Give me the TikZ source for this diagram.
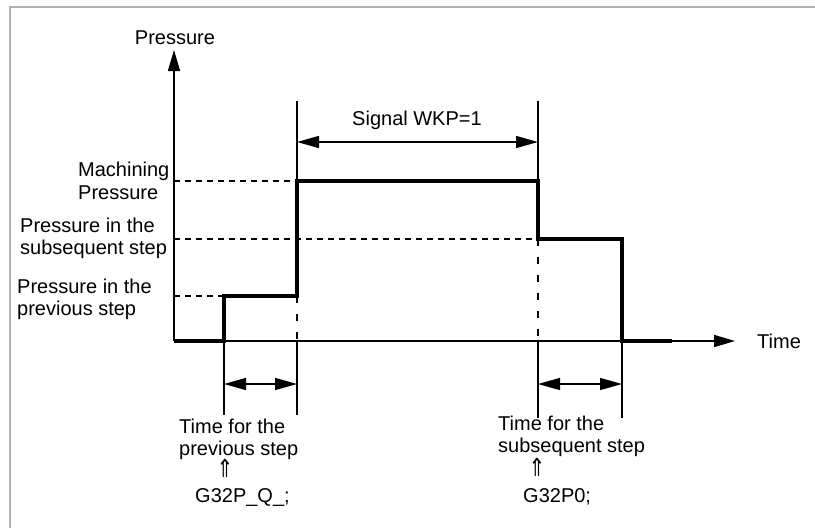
\documentclass[tikz,border=0pt]{standalone}
\usepackage{fontspec}
\setmainfont{Liberation Sans}
\newfontfamily\arrowfont{DejaVu Sans}
\usetikzlibrary{arrows.meta}
\begin{document}
\begin{tikzpicture}[x=1pt,y=-1pt,
  sig/.style={line width=3.2pt, line join=miter},
  thinline/.style={line width=1.4pt},
  hguide/.style={line width=1.2pt, dash pattern=on 6pt off 5pt},
  vguide/.style={line width=1.2pt, dash pattern=on 7pt off 11pt},
  dimarrow/.style={line width=1.4pt, {Triangle[length=22pt,width=12pt]}-{Triangle[length=22pt,width=12pt]}},
  axisarrow/.style={line width=1.5pt, -{Triangle[length=21pt,width=12pt]}},
  lbl/.style={font=\fontsize{20}{23}\selectfont, inner sep=0pt},
  uparr/.style={font=\arrowfont\fontsize{25}{28}\selectfont, inner sep=0pt, xscale=0.8},
]
\useasboundingbox (0,0) rectangle (815,528);
\clip (0,0) rectangle (815,528);
\draw[gray!60, line width=2pt] (10,7) rectangle (850,560);

% key coordinates
\coordinate (O) at (174,341);
\coordinate (ytop) at (174,50);
\coordinate (xend) at (735,341);
\coordinate (a0) at (224,341);
\coordinate (a1) at (224,296);
\coordinate (b0) at (297,296);
\coordinate (b1) at (297,181);
\coordinate (c0) at (538,181);
\coordinate (c1) at (538,239);
\coordinate (d0) at (622,239);
\coordinate (d1) at (622,341);
\coordinate (e0) at (672,341);
\coordinate (ymach) at (174,181);
\coordinate (ysub) at (174,239);
\coordinate (yprev) at (174,296);
\coordinate (b341) at (297,341);
\coordinate (c341) at (538,341);
% extension line ends
\coordinate (btop) at (297,101);
\coordinate (ctop) at (538,101);
\coordinate (abot) at (224,415);
\coordinate (bbot) at (297,415);
\coordinate (cbot) at (538,418);
\coordinate (dbot) at (622,418);
% arrow levels
\coordinate (wl) at (297,142);
\coordinate (wr) at (538,142);
\coordinate (pl) at (224,384);
\coordinate (pr) at (297,384);
\coordinate (sl) at (538,384);
\coordinate (sr) at (622,384);

% axes
\draw[axisarrow] (O) -- (ytop);
\draw[axisarrow] (O) -- (xend);

% guides
\draw[hguide] (ymach) -- (b1);
\draw[hguide] (ysub) -- (c1);
\draw[hguide] (yprev) -- (a1);
\draw[vguide] (b0) -- (b341);
\draw[vguide] (c1) -- (c341);

% extension lines
\draw[thinline] (btop) -- (b1);
\draw[thinline] (ctop) -- (c0);
\draw[thinline] (a0) -- (abot);
\draw[thinline] (b341) -- (bbot);
\draw[thinline] (c341) -- (cbot);
\draw[thinline] (d1) -- (dbot);

% signal
\draw[sig] (O) -- (a0) -- (a1) -- (b0) -- (b1) -- (c0) -- (c1) -- (d0) -- (d1) -- (e0);

% dimension arrows
\draw[dimarrow] (wl) -- (wr);
\draw[dimarrow] (pl) -- (pr);
\draw[dimarrow] (sl) -- (sr);

% labels
\node[lbl, anchor=base] (plab) at (175,44) {Pressure};
\node[lbl, anchor=base west] (tlab) at (757,348) {Time};
\node[lbl, anchor=base] (wkp) at (417,125) {Signal WKP=1};
\node[lbl, anchor=base west] (mach1) at (78,176) {Machining};
\node[lbl, anchor=base west] (mach2) at (78,199) {Pressure};
\node[lbl, anchor=base west] (sub1) at (20,232) {Pressure in the};
\node[lbl, anchor=base west] (sub2) at (20,254) {subsequent step};
\node[lbl, anchor=base west] (prev1) at (17,293) {Pressure in the};
\node[lbl, anchor=base west] (prev2) at (17,315) {previous step};
\node[lbl, anchor=base west] (tp1) at (179,433) {Time for the};
\node[lbl, anchor=base west] (tp2) at (179,455) {previous step};
\node[uparr] (up1) at (225,468) {⇑};
\node[lbl, anchor=base west] (g1) at (195,502) {G32P\_Q\_;};
\node[lbl, anchor=base west] (ts1) at (498,430) {Time for the};
\node[lbl, anchor=base west] (ts2) at (498,452) {subsequent step};
\node[uparr] (up2) at (537,467) {⇑};
\node[lbl, anchor=base west] (g2) at (523,502) {G32P0;};
\end{tikzpicture}
\end{document}
